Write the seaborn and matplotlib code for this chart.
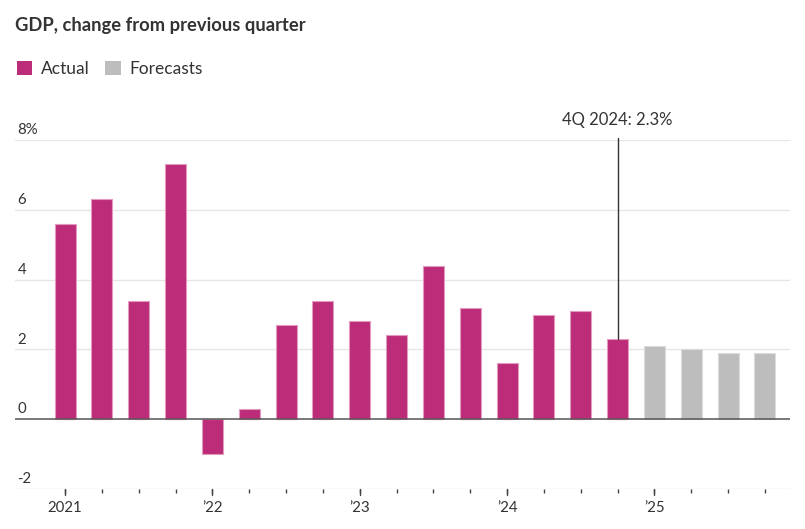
import matplotlib
matplotlib.use("Agg")
import matplotlib.pyplot as plt
import matplotlib.transforms as mtransforms
from matplotlib.patches import Patch
import seaborn as sns
import pandas as pd

quarters = ["2021Q1", "2021Q2", "2021Q3", "2021Q4",
            "2022Q1", "2022Q2", "2022Q3", "2022Q4",
            "2023Q1", "2023Q2", "2023Q3", "2023Q4",
            "2024Q1", "2024Q2", "2024Q3", "2024Q4",
            "2025Q1", "2025Q2", "2025Q3", "2025Q4"]
actual = [5.6, 6.3, 3.4, 7.3, -1.0, 0.3, 2.7, 3.4, 2.8, 2.4, 4.4, 3.2,
          1.6, 3.0, 3.1, 2.3]
forecasts = [2.1, 2.0, 1.9, 1.9]
year_labels = ["2021", "\u201922", "\u201923", "\u201924", "\u201925"]
y_ticks = [-2, 0, 2, 4, 6, 8]
y_labels = ["-2", "0", "2", "4", "6", "8%"]
annotation_text = "4Q 2024: 2.3%"

values = actual + forecasts
kinds = ["Actual"] * len(actual) + ["Forecasts"] * len(forecasts)
df = pd.DataFrame({"quarter": quarters, "value": values, "kind": kinds})

c_act = "#bc2c79"
c_fc = "#bdbdbd"
edge = {"Actual": "#e39ac0", "Forecasts": "#dcdcdc"}

sns.set_style("white")
plt.rcParams["font.family"] = ["Lato", "DejaVu Sans"]

fig = plt.figure(figsize=(8.05, 5.29), dpi=100)
ax = fig.add_axes([15 / 805, 1 - 489 / 529, 775 / 805, (489 - 140) / 529])

sns.barplot(data=df, x="quarter", y="value", hue="kind",
            palette={"Actual": c_act, "Forecasts": c_fc}, saturation=1,
            dodge=False, width=0.57, ax=ax, legend=False, zorder=3)
for p in ax.patches:
    xc = p.get_x() + p.get_width() / 2
    i = int(round(xc))
    if 0 <= i < len(kinds):
        p.set_edgecolor(edge[kinds[i]])
        p.set_linewidth(0.8)

ax.set_xlim(-1.36, 19.68)
ax.set_ylim(-2, 8)

for yv in y_ticks:
    if yv == 0:
        ax.axhline(0, color="#555555", lw=1.1, zorder=4)
    else:
        ax.axhline(yv, color="#e6e6e6", lw=1.0, zorder=1)

for s in ax.spines.values():
    s.set_visible(False)
ax.set_yticks([])
ax.set_xlabel("")
ax.set_ylabel("")

trans = mtransforms.blended_transform_factory(ax.transAxes, ax.transData)
for yv, lab in zip(y_ticks, y_labels):
    ax.text(0.003, yv + 0.08, lab, transform=trans, ha="left", va="bottom",
            fontsize=10.8, color="#333333")

xt = list(range(len(quarters)))
ax.set_xticks(xt)
ax.set_xticklabels([""] * len(xt))
ax.tick_params(axis="x", which="major", length=3, width=1, color="#444444",
               direction="out", pad=2, bottom=True)
yr_trans = mtransforms.blended_transform_factory(ax.transData, ax.transAxes)
for j, lab in enumerate(year_labels):
    i = j * 4
    ax.plot([i, i], [0, -0.018], transform=yr_trans, color="#444444", lw=1,
            clip_on=False, zorder=5)
    ax.text(i, -0.035, lab, transform=yr_trans, ha="center", va="top",
            fontsize=10.8, color="#333333")

idx = quarters.index("2024Q4")
ax.plot([idx, idx], [actual[idx], 8.05], color="#333333", lw=1, zorder=5,
        clip_on=False)
ax.text(idx, 8.35, annotation_text, ha="center", va="bottom",
        fontsize=12, color="#333333", clip_on=False)

fig.text(15 / 805, 1 - 25 / 529, "GDP, change from previous quarter",
         fontsize=13.2, fontweight="bold", color="#333333", va="center",
         ha="left")
handles = [Patch(facecolor=c_act, edgecolor="none", label="Actual"),
           Patch(facecolor=c_fc, edgecolor="none", label="Forecasts")]
fig.legend(handles=handles, loc="upper left",
           bbox_to_anchor=(1 / 805, 1 - 45 / 529), ncol=2, frameon=False,
           fontsize=12.5, handlelength=0.9, handleheight=0.9,
           handletextpad=0.5, columnspacing=0.9, labelcolor="#333333")

fig.savefig("out.png", dpi=100)
